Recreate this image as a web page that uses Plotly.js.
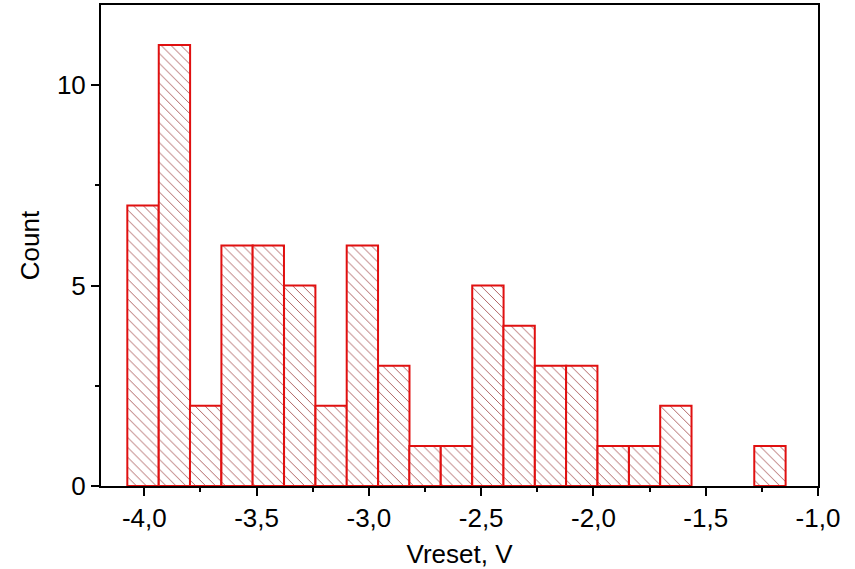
<!DOCTYPE html>
<html>
<head>
<meta charset="utf-8">
<script src="https://cdn.plot.ly/plotly-3.0.1.min.js"></script>
<style>html,body{margin:0;padding:0;background:#fff;}#chart{width:855px;height:569px;}</style>
</head>
<body>
<div id="chart"></div>
<script>
const binCenters = [-4.006, -3.866, -3.727, -3.587, -3.448, -3.308, -3.168, -3.029, -2.889, -2.750, -2.610, -2.470, -2.331, -2.191, -2.052, -1.912, -1.772, -1.633, -1.493, -1.354, -1.214];
const counts = [7, 11, 2, 6, 6, 5, 2, 6, 3, 1, 1, 5, 4, 3, 3, 1, 1, 2, 0, 0, 1];
const binWidth = 0.1396;
const xTickVals = [-4.0, -3.5, -3.0, -2.5, -2.0, -1.5, -1.0];
const xTickText = ["-4,0", "-3,5", "-3,0", "-2,5", "-2,0", "-1,5", "-1,0"];
const yTickVals = [0, 5, 10];
const yTickText = ["0", "5", "10"];

const trace = {
  type: 'bar',
  x: binCenters,
  y: counts,
  width: binCenters.map(() => binWidth),
  marker: {
    color: 'rgba(255,255,255,1)',
    line: {color: '#e01010', width: counts.map(c => c > 0 ? 2 : 0)},
    pattern: {shape: '\\', fgcolor: '#a04848', bgcolor: '#ffffff', size: 7, solidity: 0.12}
  },
  hoverinfo: 'x+y'
};

const tickFont = {family: 'Arial, "Liberation Sans", sans-serif', size: 26, color: '#000'};
const titleFont = {family: 'Arial, "Liberation Sans", sans-serif', size: 26, color: '#000'};

const layout = {
  width: 855, height: 569,
  margin: {l: 101, r: 37, t: 5, b: 83},
  paper_bgcolor: '#fff', plot_bgcolor: '#fff',
  showlegend: false,
  bargap: 0,
  font: tickFont,
  xaxis: {
    range: [-4.193, -1.0],
    tickmode: 'array', tickvals: xTickVals, ticktext: xTickText,
    ticks: 'outside', ticklen: 8, tickwidth: 2, tickcolor: '#000',
    minor: {tickmode: 'linear', tick0: -4.25, dtick: 0.5, ticks: 'outside', ticklen: 4, tickwidth: 2, tickcolor: '#000', showgrid: false},
    showline: true, linecolor: '#000', linewidth: 2, mirror: true,
    showgrid: false, zeroline: false,
    tickfont: tickFont,
    title: {text: 'Vreset, V', font: titleFont, standoff: 13}
  },
  yaxis: {
    range: [0, 12],
    tickmode: 'array', tickvals: yTickVals, ticktext: yTickText,
    ticks: 'outside', ticklen: 8, tickwidth: 2, tickcolor: '#000',
    minor: {tickmode: 'linear', tick0: 2.5, dtick: 5, ticks: 'outside', ticklen: 4, tickwidth: 2, tickcolor: '#000', showgrid: false},
    showline: true, linecolor: '#000', linewidth: 2, mirror: true,
    showgrid: false, zeroline: false,
    tickfont: tickFont,
    title: {text: 'Count', font: titleFont, standoff: 10}
  }
};

Plotly.newPlot('chart', [trace], layout, {displayModeBar: false, staticPlot: true});
</script>
</body>
</html>
